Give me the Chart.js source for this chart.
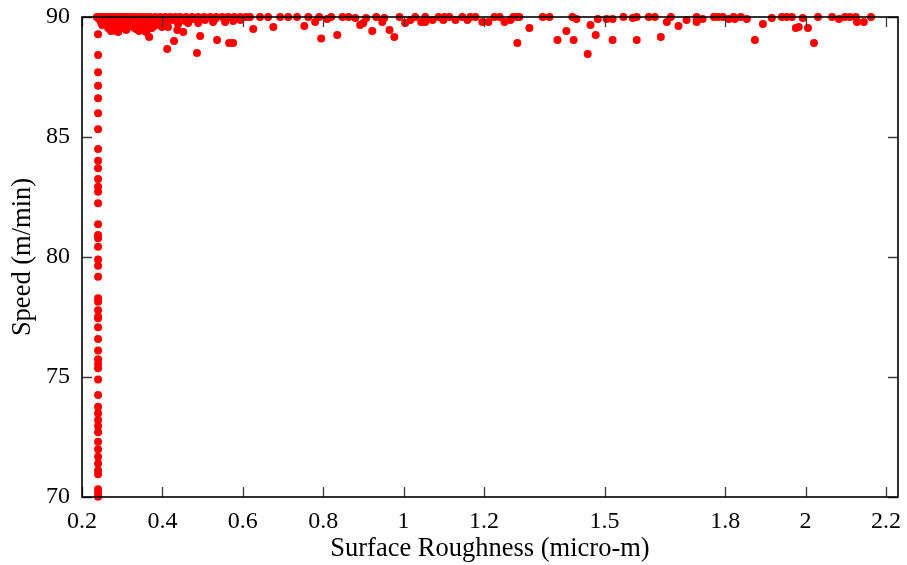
<!DOCTYPE html>
<html>
<head>
<meta charset="utf-8">
<script src="https://cdn.jsdelivr.net/npm/chart.js@4.4.1/dist/chart.umd.min.js"></script>
<style>
  html, body { margin: 0; padding: 0; background: #fff; }
  #box { width: 907px; height: 565px; }
</style>
</head>
<body>
<div id="box"><canvas id="scatterChart" width="907" height="565"></canvas></div>
<script>
// ticks shown on the x axis (not evenly spaced after 1.2)
const xTicks = [0.2, 0.4, 0.6, 0.8, 1, 1.2, 1.5, 1.8, 2, 2.2];
const yTicks = [70, 75, 80, 85, 90];

// vertical run of points at the smallest roughness
const columnRoughness = 0.24;
const columnSpeed = [89.28, 88.42, 87.70, 87.14, 86.61, 85.99, 85.32, 84.50, 84.01, 83.70,
  83.25, 82.93, 82.72, 82.24, 81.36, 80.92, 80.78, 80.43, 79.90, 79.64, 79.18, 78.28,
  78.14, 77.78, 77.51, 77.45, 77.07, 76.58, 76.10, 75.74, 75.54, 75.36, 74.90, 74.25,
  73.76, 73.49, 73.21, 72.96, 72.70, 72.30, 71.99, 71.68, 71.40, 71.10, 70.95, 70.32,
  70.15, 70.01];

// points sitting on the 90 m/min limit
const topRoughness = [0.237, 0.245, 0.252, 0.260, 0.267, 0.275, 0.282, 0.290, 0.297, 0.305,
  0.312, 0.320, 0.330, 0.339, 0.349, 0.359, 0.369, 0.382, 0.394, 0.407, 0.419, 0.432,
  0.444, 0.459, 0.474, 0.489, 0.504, 0.519, 0.534, 0.549, 0.564, 0.579, 0.594, 0.608,
  0.618, 0.643, 0.663, 0.693, 0.713, 0.735, 0.763, 0.790, 0.820, 0.848, 0.863, 0.932,
  0.990, 1.029, 1.054, 1.087, 1.102, 1.114, 1.146, 1.166, 1.179, 1.226, 1.239, 1.273,
  1.283, 1.288, 1.346, 1.363, 1.420, 1.547, 1.580, 1.610, 1.625, 1.665, 1.729, 1.772,
  1.782, 1.794, 1.821, 1.839, 1.941, 1.953, 1.966, 2.031, 2.066, 2.098, 2.110, 2.125,
  2.163];

// points just under the limit
const nearRoughness = [0.242, 0.247, 0.250, 0.255, 0.260, 0.262, 0.265, 0.270, 0.272, 0.275,
  0.280, 0.285, 0.290, 0.292, 0.295, 0.300, 0.305, 0.310, 0.312, 0.315, 0.320, 0.325,
  0.327, 0.334, 0.339, 0.342, 0.344, 0.349, 0.352, 0.354, 0.359, 0.362, 0.364, 0.369,
  0.374, 0.382, 0.384, 0.389, 0.394, 0.399, 0.402, 0.409, 0.424, 0.439, 0.457, 0.474,
  0.489, 0.506, 0.531, 0.556, 0.594,
  0.290, 0.359, 0.367, 0.379, 0.337, 0.414, 0.437, 0.452, 0.429, 0.412, 0.494, 0.486,
  0.536, 0.566, 0.576, 0.626, 0.676, 0.576, 0.526, 0.464,
  0.753, 0.780, 0.795, 0.810, 0.835, 0.880, 0.892, 0.900, 0.907, 0.922, 0.947, 0.952,
  0.965, 0.977, 1.004, 1.017, 1.044, 1.054, 1.072, 1.099, 1.129, 1.159, 1.196, 1.211,
  1.251, 1.266, 1.283, 1.313, 1.383, 1.405, 1.423, 1.430, 1.458, 1.465, 1.478, 1.483,
  1.505, 1.520, 1.520, 1.570, 1.580, 1.640, 1.655, 1.684, 1.704, 1.729, 1.744, 1.809,
  1.824, 1.854, 1.874, 1.894, 1.916, 1.976, 1.983, 1.993, 2.006, 2.021, 2.083, 2.128,
  2.145];
const nearSpeed = [89.92, 89.79, 89.67, 89.71, 89.875, 89.71, 89.54, 89.75, 89.42, 89.92,
  89.62, 89.42, 89.79, 89.71, 89.54, 89.875, 89.71, 89.46, 89.79, 89.875, 89.62, 89.92,
  89.58, 89.50, 89.83, 89.42, 89.67, 89.92, 89.75, 89.58, 89.79, 89.46, 89.875, 89.71,
  89.54, 89.83, 89.67, 89.92, 89.75, 89.58, 89.875, 89.79, 89.875, 89.71, 89.83, 89.92,
  89.75, 89.875, 89.92, 89.79, 89.875,
  89.375, 89.375, 89.17, 89.62, 89.58, 89.58, 89.46, 89.375, 89.00, 88.67, 89.21, 88.50,
  89.04, 88.92, 88.92, 89.50, 89.58, 89.83, 89.79, 89.75,
  89.62, 89.79, 89.10, 89.92, 89.25, 89.96, 89.67, 89.75, 89.96, 89.42, 89.79, 89.96,
  89.46, 89.17, 89.75, 89.875, 89.79, 89.79, 89.875, 89.875, 89.875, 89.875, 89.79, 89.79,
  89.79, 89.875, 88.92, 89.54, 89.04, 89.42, 89.04, 89.92, 88.46, 89.67, 89.25, 89.92,
  89.92, 89.92, 89.04, 89.96, 89.04, 89.17, 89.79, 89.62, 89.875, 89.79, 89.92, 89.92,
  89.92, 89.92, 89.04, 89.71, 89.96, 89.54, 89.58, 89.96, 89.54, 88.92, 89.92, 89.79,
  89.79];

function buildPoints() {
  let pts = [];
  columnSpeed.forEach(s => pts.push({ x: columnRoughness, y: s }));
  topRoughness.forEach(r => pts.push({ x: r, y: 90 }));
  nearRoughness.forEach((r, i) => pts.push({ x: r, y: nearSpeed[i] }));
  return pts;
}

// frame with inward ticks on all four sides, drawn over the points
const frame = {
  id: 'frame',
  afterDatasetsDraw(chart) {
    const ctx = chart.ctx, a = chart.chartArea;
    const sx = chart.scales.x, sy = chart.scales.y;
    ctx.save();
    ctx.strokeStyle = '#3a3a3a';
    ctx.lineWidth = 1.3;
    ctx.beginPath();
    xTicks.forEach(v => {
      const px = Math.round(sx.getPixelForValue(v)) + 0.5;
      ctx.moveTo(px, a.bottom); ctx.lineTo(px, a.bottom - 10);
      ctx.moveTo(px, a.top); ctx.lineTo(px, a.top + 10);
    });
    yTicks.forEach(v => {
      const py = Math.round(sy.getPixelForValue(v)) + 0.5;
      ctx.moveTo(a.left, py); ctx.lineTo(a.left + 10, py);
      ctx.moveTo(a.right, py); ctx.lineTo(a.right - 10, py);
    });
    ctx.stroke();
    ctx.strokeStyle = '#000';
    ctx.lineWidth = 1.6;
    ctx.strokeRect(a.left, a.top, a.right - a.left, a.bottom - a.top);
    ctx.restore();
  }
};

const serif = '"Liberation Serif", "DejaVu Serif", serif';

var ctx = document.getElementById('scatterChart').getContext('2d');
new Chart(ctx, {
  type: 'scatter',
  data: {
    datasets: [{
      data: buildPoints(),
      backgroundColor: '#ff0000',
      borderWidth: 0,
      pointRadius: 4,
      pointHoverRadius: 4,
      clip: false
    }]
  },
  options: {
    responsive: false,
    animation: false,
    events: [],
    layout: { padding: { top: 17, right: 9, left: 0, bottom: 0 } },
    plugins: { legend: { display: false }, tooltip: { enabled: false } },
    scales: {
      x: {
        type: 'linear', min: 0.2, max: 2.23,
        afterBuildTicks: s => { s.ticks = xTicks.map(v => ({ value: v })); },
        afterFit: s => { s.height = 68; s.paddingLeft = 0; s.paddingRight = 0; },
        grid: { display: false, drawTicks: false },
        border: { display: false },
        ticks: { color: '#000', padding: 10, maxRotation: 0, font: { family: serif, size: 24 },
          callback: v => String(v) },
        title: { display: true, text: 'Surface Roughness (micro-m)', color: '#000',
          padding: { top: 0, bottom: 0 }, font: { family: serif, size: 26.5 } }
      },
      y: {
        min: 70, max: 90,
        afterBuildTicks: s => { s.ticks = yTicks.map(v => ({ value: v })); },
        afterFit: s => { s.width = 82; s.paddingTop = 0; s.paddingBottom = 0; },
        grid: { display: false, drawTicks: false },
        border: { display: false },
        ticks: { color: '#000', padding: 12, font: { family: serif, size: 24 } },
        title: { display: true, text: 'Speed (m/min)', color: '#000',
          padding: { top: 7, bottom: 0 }, font: { family: serif, size: 26.5 } }
      }
    }
  },
  plugins: [frame]
});
</script>
</body>
</html>
